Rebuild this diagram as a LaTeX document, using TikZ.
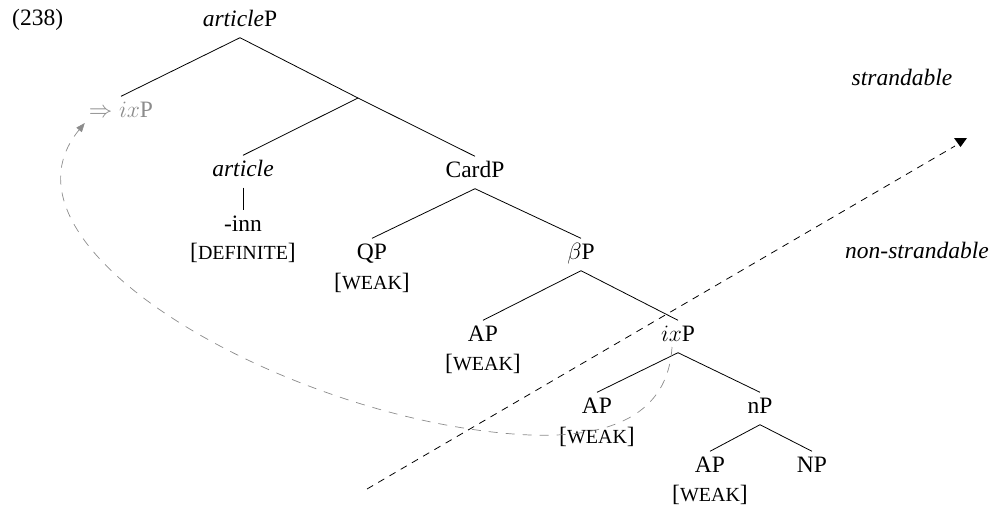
\RequirePackage{fix-cm}
\documentclass[tikz,border=0pt]{standalone}
\usepackage{fontspec}
\setmainfont{Liberation Serif}
\usetikzlibrary{arrows.meta}
\newcommand\fsc[1]{{\fontsize{20}{22}\selectfont #1}}
\newcommand\feat[1]{[\fsc{#1}]}
\newcommand\treeedge[2]{\draw[branch] ([yshift=-7pt]#1.south) -- (#2.north);}
\begin{document}
\begin{tikzpicture}[x=1pt,y=-1pt,
  every node/.style={font=\fontsize{23.5}{28}\selectfont},
  tn/.style={anchor=base, inner xsep=0pt, inner ysep=4.5pt, text height=16pt, text depth=0pt},
  ft/.style={anchor=base, inner sep=0pt},
  lbl/.style={anchor=base, inner sep=0pt, font=\fontsize{23.5}{28}\selectfont\itshape},
  branch/.style={line width=0.8pt, black},
  tracecol/.style={black!45},
  movement/.style={tracecol, line width=0.7pt, dash pattern=on 9pt off 8pt, -{Triangle[length=9pt,width=7pt]}},
  divider/.style={line width=0.8pt, dash pattern=on 7pt off 6pt}]
\useasboundingbox (0,0) rectangle (998,506);

\node[ft, anchor=base west] (exnum) at (12,25) {(238)};

\node[tn] (artp) at (240,26) {\textit{article}P};
\node[tn, tracecol] (trace) at (121,117) {$\Rightarrow ix$P};
\coordinate (xbar) at (358,98);
\node[tn] (art) at (243,176) {\textit{article}};
\node[tn] (inn) at (243,231) {-inn};
\node[ft] (fdef) at (243,259) {\feat{DEFINITE}};
\node[tn] (cardp) at (475,177) {CardP};
\node[tn] (qp) at (372,259) {QP};
\node[ft] (fqp) at (372,289) {\feat{WEAK}};
\node[tn] (betap) at (581,259) {$\beta$P};
\node[tn] (ap1) at (483,341) {AP};
\node[ft] (fap1) at (483,370) {\feat{WEAK}};
\node[tn] (ixp) at (678,341) {$ix$P};
\node[tn] (ap2) at (597,413) {AP};
\node[ft] (fap2) at (597,443) {\feat{WEAK}};
\node[tn] (np) at (760,413) {nP};
\node[tn] (ap3) at (710,472) {AP};
\node[ft] (fap3) at (710,501) {\feat{WEAK}};
\node[tn] (bignp) at (812,472) {NP};

\node[lbl] (strand) at (902,85) {strandable};
\node[lbl] (nonstrand) at (917,258) {non-strandable};

% tree branches
\treeedge{artp}{trace}
\draw[branch] ([yshift=-7pt]artp.south) -- (xbar);
\draw[branch] (xbar) -- (art.north);
\draw[branch] (xbar) -- (cardp.north);
\treeedge{art}{inn}
\treeedge{cardp}{qp}
\treeedge{cardp}{betap}
\treeedge{betap}{ap1}
\treeedge{betap}{ixp}
\treeedge{ixp}{ap2}
\treeedge{ixp}{np}
\treeedge{np}{ap3}
\treeedge{np}{bignp}

% boundary arrow
\coordinate (dstart) at (367,489);
\coordinate (dend) at (955,146);
\draw[divider] (dstart) -- (dend);
\fill (dend) ++(-1,-8) -- ++(13,0) -- ++(-6.5,9) -- cycle;

% movement
\draw[movement] ([xshift=-6pt,yshift=-6pt]ixp.base)
  .. controls (668,415) and (610,438) .. (530,435)
  .. controls (300,425) and (-20,250) .. ([xshift=-4pt,yshift=-6pt]trace.base west);
\end{tikzpicture}
\end{document}
